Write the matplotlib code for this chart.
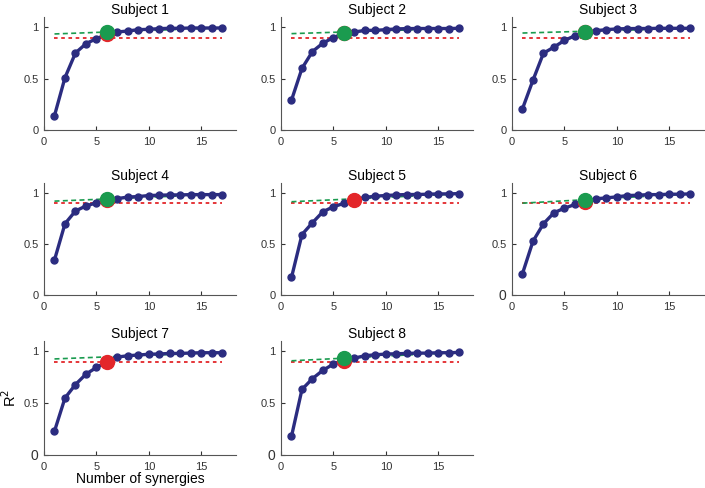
import matplotlib
matplotlib.use("Agg")
import matplotlib.pyplot as plt
import numpy as np

plt.rcParams["font.family"] = ["Liberation Sans", "DejaVu Sans"]

n_syn = np.arange(1, 18)

r2_curves = {
    "Subject 1": [0.14, 0.51, 0.75, 0.84, 0.89, 0.93, 0.954, 0.964, 0.977, 0.98, 0.987, 0.99, 0.99, 0.993, 0.993, 0.993, 0.993],
    "Subject 2": [0.29, 0.60, 0.764, 0.846, 0.90, 0.94, 0.954, 0.97, 0.97, 0.977, 0.984, 0.987, 0.988, 0.988, 0.988, 0.988, 0.99],
    "Subject 3": [0.207, 0.485, 0.748, 0.807, 0.872, 0.918, 0.95, 0.967, 0.977, 0.984, 0.987, 0.988, 0.988, 0.99, 0.99, 0.99, 0.99],
    "Subject 4": [0.344, 0.70, 0.825, 0.875, 0.905, 0.93, 0.947, 0.962, 0.967, 0.977, 0.98, 0.983, 0.983, 0.986, 0.986, 0.986, 0.986],
    "Subject 5": [0.172, 0.594, 0.71, 0.818, 0.867, 0.90, 0.935, 0.958, 0.971, 0.977, 0.983, 0.987, 0.987, 0.99, 0.993, 0.993, 0.996],
    "Subject 6": [0.21, 0.528, 0.70, 0.808, 0.853, 0.889, 0.91, 0.945, 0.954, 0.964, 0.977, 0.98, 0.986, 0.986, 0.99, 0.99, 0.993],
    "Subject 7": [0.23, 0.55, 0.68, 0.78, 0.845, 0.90, 0.945, 0.958, 0.965, 0.972, 0.975, 0.98, 0.98, 0.984, 0.987, 0.987, 0.987],
    "Subject 8": [0.18, 0.633, 0.737, 0.818, 0.877, 0.909, 0.935, 0.958, 0.967, 0.974, 0.977, 0.98, 0.983, 0.983, 0.987, 0.987, 0.99],
}

# linear fit of the tail: value at x=1 and at x=17
fit_start = [0.935, 0.938, 0.944, 0.922, 0.916, 0.902, 0.927, 0.909]
fit_end = [0.995, 0.99, 0.99, 0.99, 0.993, 0.993, 0.99, 0.99]

threshold = 0.9

# selected number of synergies (red: threshold, green: fit criterion), y of markers
red_x = [6, 6, 7, 6, 7, 7, 6, 6]
red_y = [0.93, 0.94, 0.95, 0.93, 0.935, 0.91, 0.90, 0.909]
green_x = [6, 6, 7, 6, None, 7, None, 6]
green_y = [0.955, 0.947, 0.955, 0.942, None, 0.935, None, 0.937]

line_col = "#2b2c80"
red_col = "#e3262a"
green_col = "#1a9b4f"

fig = plt.figure(figsize=(7.05, 4.88), dpi=100)

col_left = [44, 281, 512]
row_span = [(17, 130), (183, 295), (341, 455)]
W, H = 705.0, 488.0
ax_w = 192

for i, (name, r2) in enumerate(r2_curves.items()):
    row, col = divmod(i, 3)
    top, bot = row_span[row]
    ax = fig.add_axes([col_left[col] / W, 1 - bot / H, ax_w / W, (bot - top) / H])

    ax.plot(n_syn, r2, "-o", color=line_col, lw=2.4, ms=5, zorder=3)
    ax.plot([n_syn[0], n_syn[-1]], [threshold, threshold], ":", color=red_col, lw=1.3, zorder=2,
            dashes=(2, 2))
    ax.plot([n_syn[0], n_syn[-1]], [fit_start[i], fit_end[i]], "--", color=green_col, lw=1.2, zorder=2,
            dashes=(3, 2))
    ax.plot([red_x[i]], [red_y[i]], "o", color=red_col, ms=10, zorder=4)
    if green_x[i] is not None:
        ax.plot([green_x[i]], [green_y[i]], "o", color=green_col, ms=10, zorder=5)

    ax.set_xlim(0, 18.3)
    ax.set_ylim(0, 1.1)
    ax.set_xticks([0, 5, 10, 15])
    ax.set_yticks([0, 0.5, 1])
    ax.set_yticklabels(["0", "0.5", "1"])
    ax.set_title(name, fontsize=10, pad=1.5)
    for s in ("top", "right"):
        ax.spines[s].set_visible(False)
    for s in ("left", "bottom"):
        ax.spines[s].set_color("#555555")
        ax.spines[s].set_linewidth(0.8)
    ax.tick_params(direction="in", length=3, labelsize=8, colors="#333333")
    ax.tick_params(axis="x", pad=5)
    ax.tick_params(axis="y", pad=4)
    if i >= 5:
        ax.get_yticklabels()[0].set_fontsize(10)

    if i == 6:
        ax.set_xlabel("Number of synergies", fontsize=10, labelpad=0)
        ax.set_ylabel("R$^2$", fontsize=10.5)
        ax.yaxis.set_label_coords(-0.13, 0.5)

fig.savefig("out.png", dpi=100)
